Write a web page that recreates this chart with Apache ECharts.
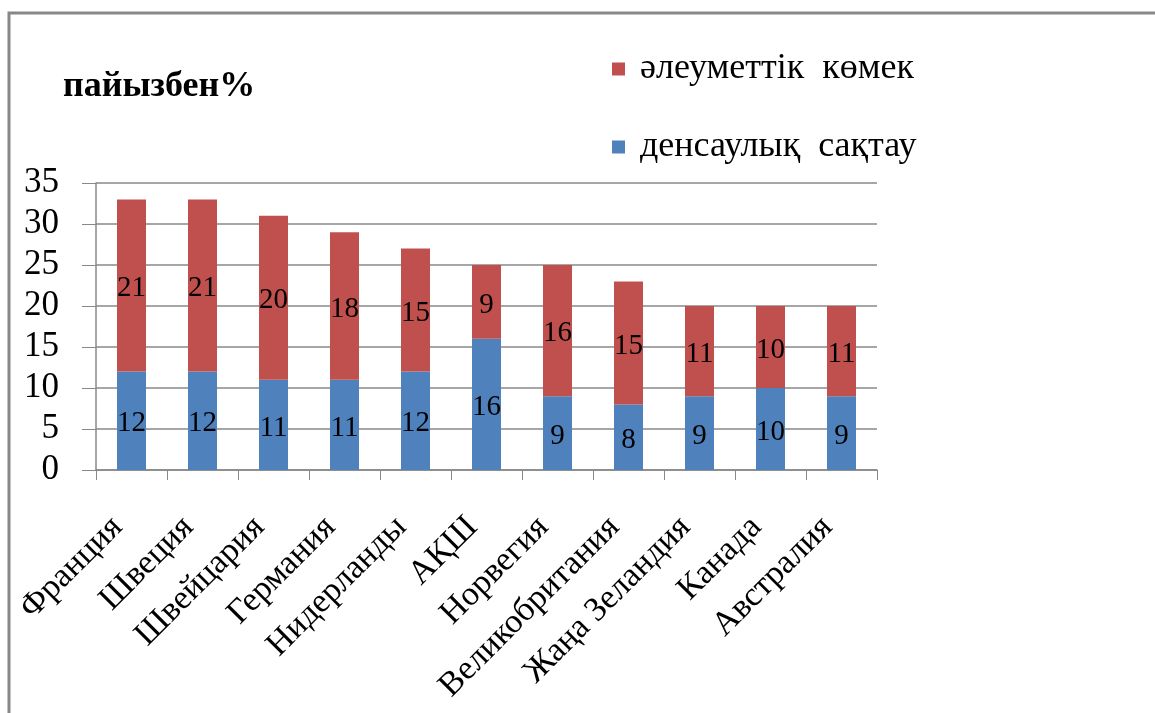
<!DOCTYPE html>
<html><head><meta charset="utf-8">
<script src="https://cdn.jsdelivr.net/npm/echarts@6/dist/echarts.min.js"></script>
<style>html,body{margin:0;padding:0;background:#fff}#c{width:1155px;height:713px}</style>
</head><body><div id="c"></div>
<script>
const categories = ['Франция','Швеция','Швейцария','Германия','Нидерланды','АҚШ','Норвегия','Великобритания','Жаңа Зеландия','Канада','Австралия'];
const health = [12,12,11,11,12,16,9,8,9,10,9];
const social = [21,21,20,18,15,9,16,15,11,10,11];
const seriesNames = ['денсаулық  сақтау','әлеуметтік  көмек'];
const titleText = 'пайызбен%';
const yTicks = {min:0,max:35,interval:5};

const font = '"Liberation Serif","Times New Roman",serif';
const chart = echarts.init(document.getElementById('c'));
const lbl = {show:true,position:'inside',color:'#000',fontFamily:font,fontSize:29,offset:[0,3]};
chart.setOption({
  animation:false,
  graphic:[{type:'rect',shape:{x:9,y:13,width:1200,height:760},style:{fill:'none',stroke:'#888',lineWidth:3},silent:true}],
  title:{text:titleText,left:58,top:64,textStyle:{fontFamily:font,fontSize:36,fontWeight:'bold',color:'#000'}},
  legend:{orient:'vertical',left:607,top:46,itemWidth:13,itemHeight:13,itemGap:42,icon:'rect',
    data:[seriesNames[1],seriesNames[0]],
    textStyle:{fontFamily:font,fontSize:36,color:'#000',padding:[0,0,0,10]}},
  grid:{left:96,right:278,top:183,bottom:243},
  xAxis:{type:'category',data:categories,
    axisLine:{lineStyle:{color:'#888',width:1.5}},
    axisTick:{show:true,length:10,lineStyle:{color:'#888'}},
    axisLabel:{rotate:45,interval:0,margin:38,padding:[0,20,0,0],fontFamily:font,fontSize:34,color:'#000'}},
  yAxis:{type:'value',min:yTicks.min,max:yTicks.max,interval:yTicks.interval,
    axisLine:{show:true,lineStyle:{color:'#888',width:1.5}},
    axisTick:{show:true,length:14,lineStyle:{color:'#888'}},
    splitLine:{lineStyle:{color:'#888',width:1.5}},
    axisLabel:{margin:37,fontFamily:font,fontSize:35,color:'#000'}},
  series:[
    {name:seriesNames[0],type:'bar',stack:'a',data:health,barWidth:29,itemStyle:{color:'#4F81BD'},label:lbl},
    {name:seriesNames[1],type:'bar',stack:'a',data:social,barWidth:29,itemStyle:{color:'#C0504D'},label:lbl}
  ]
});
</script></body></html>
